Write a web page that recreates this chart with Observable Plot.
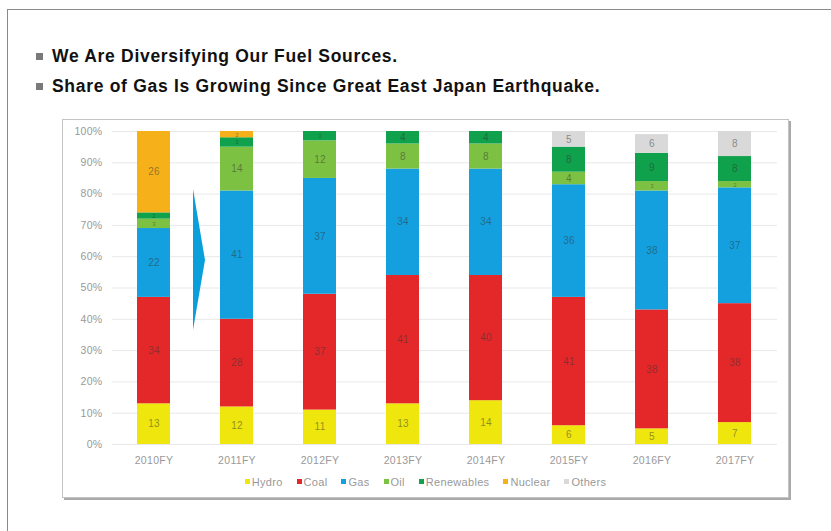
<!DOCTYPE html>
<html>
<head>
<meta charset="utf-8">
<script src="https://cdn.jsdelivr.net/npm/d3@7"></script>
<script src="https://cdn.jsdelivr.net/npm/@observablehq/plot@0.6"></script>
<style>
  html, body { margin: 0; padding: 0; background: #fff; width: 831px; height: 531px; overflow: hidden; font-family: "Liberation Sans", Arial, sans-serif; }
  #frame { position: absolute; left: 7px; top: 9px; width: 900px; height: 600px; border: 1px solid #8a8a8a; box-sizing: border-box; }
  .bullet { position: absolute; left: 36px; font-weight: bold; font-size: 17.5px; letter-spacing: 0.7px; color: #111; }
  .bullet .sq { display: inline-block; width: 7px; height: 7px; background: #7a7a7a; margin-right: 9px; vertical-align: 2px; }
  #panel { position: absolute; left: 62px; top: 119px; width: 727px; height: 379px; border: 1px solid #c4c4c4; box-sizing: border-box; box-shadow: 2px 2px 0 #a9a9a9; background: #fff; }
  #chart { position: absolute; left: 0; top: 0; }
  #legend { position: absolute; left: 0; width: 725px; top: 356px; text-align: center; font-size: 11px; letter-spacing: 0.3px; color: #999; }
  #legend span.item { margin: 0 7px; white-space: nowrap; }
  #legend span.sw { display: inline-block; width: 5px; height: 5px; margin-right: 2px; vertical-align: 2px; }
  #arrow { position: absolute; left: 0; top: 0; }
</style>
</head>
<body>
<div id="frame"></div>
<div class="bullet" style="top:46px"><span class="sq"></span>We Are Diversifying Our Fuel Sources.</div>
<div class="bullet" style="top:76px"><span class="sq"></span>Share of Gas Is Growing Since Great East Japan Earthquake.</div>
<div id="panel">
  <div id="chart"></div>
  <div id="legend"></div>
</div>
<svg id="arrow" width="831" height="531" style="pointer-events:none"><polygon points="193,189 205,260 193,330" fill="#0A9FDA"/></svg>
<script>
const years = ["2010FY","2011FY","2012FY","2013FY","2014FY","2015FY","2016FY","2017FY"];
const fuels = ["Hydro","Coal","Gas","Oil","Renewables","Nuclear","Others"];
const colors = ["#EEE60C","#E4282A","#14A0DE","#7DC142","#0FA14B","#F6B11A","#D9D9D9"];
const hydro      = [13,12,11,13,14, 6, 5, 7];
const coal       = [34,28,37,41,40,41,38,38];
const gas        = [22,41,37,34,34,36,38,37];
const oil        = [ 3,14,12, 8, 8, 4, 3, 2];
const renewables = [ 2, 3, 3, 4, 4, 8, 9, 8];
const nuclear    = [26, 2, 0, 0, 0, 0, 0, 0];
const others     = [ 0, 0, 0, 0, 0, 5, 6, 8];
const yTicks = [0,10,20,30,40,50,60,70,80,90,100];

const series = [hydro, coal, gas, oil, renewables, nuclear, others];
const data = [];
years.forEach((yr, i) => {
  fuels.forEach((f, j) => {
    if (series[j][i] > 0) data.push({year: yr, fuel: f, value: series[j][i]});
  });
});

const stackOpts = {x: "year", y: "value", z: "fuel", order: fuels};

const plot = Plot.plot({
  width: 725,
  height: 345,
  marginLeft: 49,
  marginRight: 11,
  marginTop: 11,
  marginBottom: 21,
  style: {fontFamily: "'Liberation Sans', Arial, sans-serif", fontSize: "10.5px", color: "#999", background: "transparent", letterSpacing: "0.3px"},
  x: {domain: years, paddingInner: 0.6, paddingOuter: 0.3, label: null, tickSize: 0, tickPadding: 12},
  y: {domain: [0, 100], ticks: yTicks, tickFormat: d => d + "%", label: null, tickSize: 0, tickPadding: 10},
  color: {domain: fuels, range: colors},
  marks: [
    Plot.gridY(yTicks, {stroke: "#e8e8e8", strokeOpacity: 1}),
    Plot.barY(data, Plot.stackY({...stackOpts, fill: "fuel"})),
    Plot.text(data, Plot.stackY({...stackOpts, text: d => String(d.value), fill: "#333", fillOpacity: 0.5, fontSize: d => d.value <= 3 ? 6 : 10}))
  ]
});
document.getElementById("chart").appendChild(plot);

const legend = document.getElementById("legend");
fuels.forEach((f, j) => {
  const item = document.createElement("span");
  item.className = "item";
  const sw = document.createElement("span");
  sw.className = "sw";
  sw.style.background = colors[j];
  item.appendChild(sw);
  item.appendChild(document.createTextNode(f));
  legend.appendChild(item);
});
</script>
</body>
</html>
